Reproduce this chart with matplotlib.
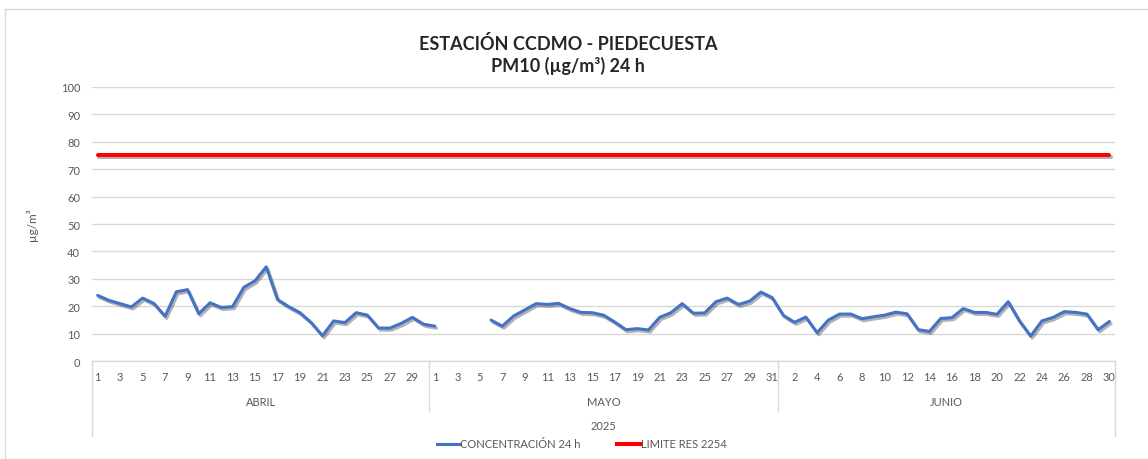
import numpy as np
import matplotlib
matplotlib.use("Agg")
import matplotlib.pyplot as plt
import matplotlib.patheffects as pe
from matplotlib.transforms import blended_transform_factory
from matplotlib.lines import Line2D

plt.rcParams['font.family'] = ['Lato', 'DejaVu Sans']

months = ["ABRIL", "MAYO", "JUNIO"]
month_days = [30, 31, 30]
year_label = "2025"

abril = [24.0, 22.2, 21.0, 19.8, 23.0, 21.1, 16.4, 25.3, 26.1, 17.3,
         21.3, 19.6, 19.9, 26.9, 29.3, 34.4, 22.5, 19.9, 17.7, 14.1,
         9.3, 14.7, 14.1, 17.7, 16.8, 12.1, 12.1, 13.8, 16.0, 13.5]
mayo = [12.8, np.nan, np.nan, np.nan, np.nan, 15.0, 12.8, 16.5, 18.7, 21.0,
        20.7, 21.1, 19.2, 17.8, 17.7, 16.8, 14.3, 11.5, 11.9, 11.4,
        16.0, 17.7, 21.0, 17.5, 17.6, 21.7, 23.0, 20.7, 21.9, 25.2, 23.2]
junio = [16.7, 14.2, 16.1, 10.4, 15.0, 17.2, 17.2, 15.5, 16.2, 16.8,
         17.9, 17.3, 11.5, 10.9, 15.6, 15.9, 19.2, 17.8, 17.8, 17.1,
         21.7, 14.7, 9.2, 14.7, 16.0, 18.1, 17.8, 17.2, 11.5, 14.5]
limite = 75

title = "ESTACIÓN CCDMO - PIEDECUESTA\nPM10 (µg/m³) 24 h"
ylabel = "µg/m³"
serie1 = "CONCENTRACIÓN 24 h"
serie2 = "LIMITE RES 2254"

conc = np.array(abril + mayo + junio, dtype=float)
day_labels = [d for n in month_days for d in range(1, n + 1)]
n = len(conc)
x = np.arange(n)

W, H = 1148, 460
fig = plt.figure(figsize=(W / 100, H / 100), dpi=100)
L, R, T, B = 92, 1115, 87.7, 362.3
ax = fig.add_axes([L / W, 1 - B / H, (R - L) / W, (B - T) / H])

grid_c = "#D9D9D9"
txt_c = "#595959"

ax.set_xlim(-0.5, n - 0.5)
ax.set_ylim(0, 100)
ax.set_yticks(np.arange(0, 101, 10))
ax.yaxis.grid(True, color=grid_c, linewidth=1)
ax.set_axisbelow(True)
for s in ["top", "right", "left"]:
    ax.spines[s].set_visible(False)
ax.spines["bottom"].set_color(grid_c)
ax.spines["bottom"].set_linewidth(1)
ax.tick_params(axis="y", length=0, pad=8.5, labelsize=8, labelcolor=txt_c)
ax.tick_params(axis="x", length=0, pad=7, labelsize=8, labelcolor=txt_c)
ax.set_xticks(x[::2])
ax.set_xticklabels([str(day_labels[i]) for i in x[::2]])

shadow = [pe.SimpleLineShadow(offset=(1.2, -1.5), shadow_color="black", alpha=0.3), pe.Normal()]
ax.plot(x, np.full(n, limite), color="#FF0000", linewidth=2.9, solid_capstyle="round",
        path_effects=shadow, zorder=3)
ax.plot(x, conc, color="#4472C4", linewidth=2.2, solid_capstyle="round",
        solid_joinstyle="round", path_effects=shadow, zorder=4)

# multi-level category axis
tr = blended_transform_factory(ax.transData, fig.transFigure)
def fy(py):
    return 1 - py / H
starts = np.cumsum([0] + month_days)
for i, m in enumerate(months):
    a, b = starts[i], starts[i + 1]
    ax.text((a + b - 1) / 2, fy(403), m, transform=tr, ha="center", va="center",
            fontsize=8, color=txt_c)
for b in starts[1:-1]:
    fig.add_artist(Line2D([b - 0.5, b - 0.5], [fy(B), fy(411.7)], transform=tr,
                          color=grid_c, linewidth=1))
for b in [starts[0], starts[-1]]:
    fig.add_artist(Line2D([b - 0.5, b - 0.5], [fy(B), fy(436.7)], transform=tr,
                          color=grid_c, linewidth=1))
ax.text((n - 1) / 2, fy(427), year_label, transform=tr, ha="center", va="center",
        fontsize=8, color=txt_c)

# y label
fig.text(32 / W, fy(225), ylabel, rotation=90, ha="center", va="center",
         fontsize=8.5, color=txt_c)

# title
fig.text(568 / W, fy(55), title, ha="center", va="center", fontsize=13,
         fontweight="bold", color="#262626", linespacing=1.3)

# legend
ly = fy(445)
fig.add_artist(Line2D([437 / W, 460 / W], [ly, ly], color="#4472C4", linewidth=2.2))
fig.text(460 / W, ly, serie1, ha="left", va="center", fontsize=8, color=txt_c)
fig.add_artist(Line2D([617 / W, 640 / W], [ly, ly], color="#FF0000", linewidth=2.9))
fig.text(641 / W, ly, serie2, ha="left", va="center", fontsize=8, color=txt_c)

# chart border (top and left visible)
fig.add_artist(Line2D([5 / W, 5 / W], [fy(10), 0], color=grid_c, linewidth=1))
fig.add_artist(Line2D([5 / W, 1], [fy(10), fy(10)], color=grid_c, linewidth=1))

fig.savefig("out.png", dpi=100, facecolor="white")
